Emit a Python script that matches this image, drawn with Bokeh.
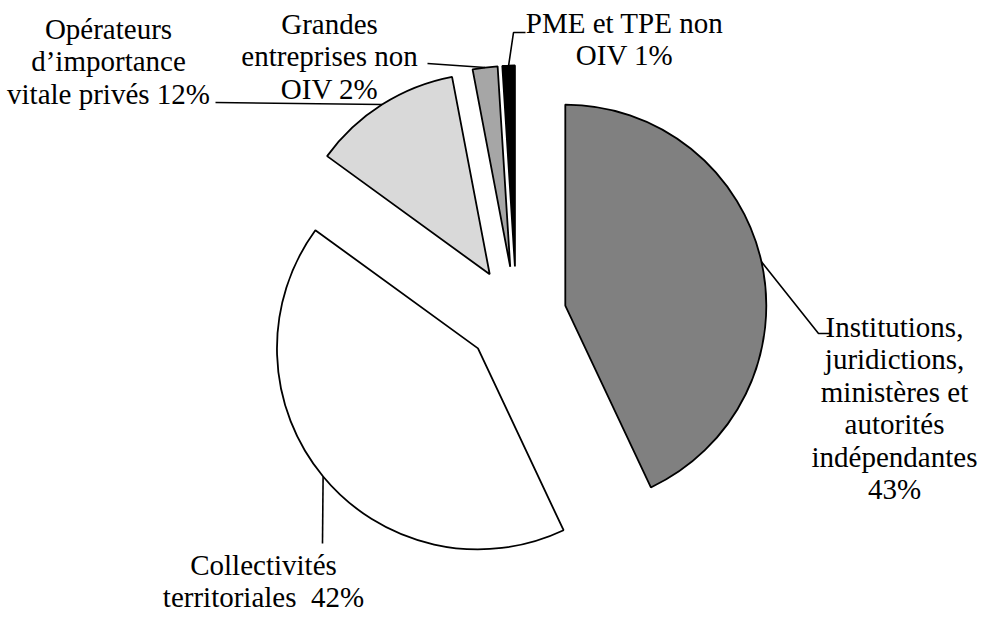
import math
from bokeh.plotting import figure
from bokeh.models import Range1d
from bokeh.core.properties import value
from bokeh.embed import file_html
from bokeh.resources import INLINE

# ---- data ----
categories = [
    "Institutions, juridictions, ministères et autorités indépendantes",
    "Collectivités territoriales",
    "Opérateurs d’importance vitale privés",
    "Grandes entreprises non OIV",
    "PME et TPE non OIV",
]
shares = [43, 42, 12, 2, 1]
fills = ["#808080", "#ffffff", "#d9d9d9", "#a6a6a6", "#000000"]
label_lines = [
    ["Institutions,", "juridictions,", "ministères et", "autorités", "indépendantes", "{}%"],
    ["Collectivités", "territoriales\u00a0 {}%"],
    ["Opérateurs", "d’importance", "vitale privés {}%"],
    ["Grandes", "entreprises non", "OIV {}%"],
    ["PME et TPE non", "OIV {}%"],
]

# ---- layout (pixel coordinates in the picture, origin top-left) ----
W, H = 979, 612


def sy(y):
    return H - y


label_anchor = [(894, 335), (263, 573), (108, 37), (329, 32), (624, 31)]
leader_bends = [
    [(818, 333), (830, 333)],
    [(322, 543)],
    [(215, 102)],
    [(427, 63)],
    [(513, 32), (525, 32)],
]
LINE_STEP = 32.5
TEXT_DY = 9  # compensation for the renderer's baseline offset
CX, CY = 516, sy(316)
R = 201
EXPLODE = 50
FONT = value("Liberation Serif")
FSIZE = "29px"

p = figure(width=W, height=H, x_range=Range1d(0, W), y_range=Range1d(0, H),
           output_backend="svg", toolbar_location=None, min_border=0,
           x_axis_location=None, y_axis_location=None)
p.grid.visible = False
p.outline_line_color = None
p.background_fill_color = "white"
p.border_fill_color = "white"

total = float(sum(shares))
cum = 0.0
for i, s in enumerate(shares):
    t1 = cum / total * 2 * math.pi
    t2 = (cum + s) / total * 2 * math.pi
    tm = (t1 + t2) / 2
    cum += s
    x0 = CX + EXPLODE * math.sin(tm)
    y0 = CY + EXPLODE * math.cos(tm)
    p.wedge(x=[x0], y=[y0], radius=R, start_angle=math.pi / 2 - t2, end_angle=math.pi / 2 - t1,
            direction="anticlock", fill_color=fills[i], line_color="black", line_width=1.8)
    # leader line from arc middle to label
    mx = x0 + R * math.sin(tm)
    my = y0 + R * math.cos(tm)
    xs = [mx] + [b[0] for b in leader_bends[i]]
    ys = [my] + [sy(b[1]) for b in leader_bends[i]]
    p.line(xs, ys, line_color="black", line_width=1.6)
    # label text
    ax, ay = label_anchor[i]
    lines = [ln.format(s) for ln in label_lines[i]]
    p.text(x=[ax] * len(lines),
           y=[sy(ay + k * LINE_STEP - TEXT_DY) for k in range(len(lines))], text=lines,
           text_align="center", text_baseline="alphabetic", text_font=FONT,
           text_font_size=FSIZE, text_color="black")

open("out.html", "w").write(file_html(p, INLINE))
